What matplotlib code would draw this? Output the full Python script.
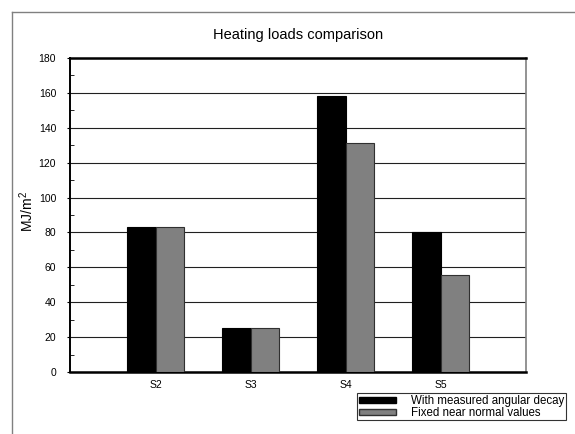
import matplotlib
matplotlib.use("Agg")
import matplotlib.pyplot as plt
from matplotlib.lines import Line2D
from matplotlib.patches import Patch
from matplotlib.ticker import MultipleLocator

plt.rcParams['font.family'] = ['Liberation Sans', 'DejaVu Sans']
plt.rcParams['mathtext.default'] = 'regular'

categories = ["S2", "S3", "S4", "S5"]
measured = [83, 25.5, 158.5, 80]
fixed = [83, 25.5, 131, 55.5]
series_names = ["With measured angular decay", "Fixed near normal values"]
yticks = [0, 20, 40, 60, 80, 100, 120, 140, 160, 180]

W, H = 575, 434
fig = plt.figure(figsize=(W / 100, H / 100), dpi=100)
ax = fig.add_axes([70 / W, 1 - 372 / H, (526 - 70) / W, (372 - 58) / H])

x = list(range(len(categories)))
bw = 0.3
ax.bar([i - bw / 2 for i in x], measured, width=bw, color="black",
       edgecolor="black", linewidth=0.8, zorder=3, label=series_names[0])
ax.bar([i + bw / 2 for i in x], fixed, width=bw, color="#808080",
       edgecolor="#303030", linewidth=0.8, zorder=3, label=series_names[1])

ax.set_xlim(-0.9, 3.9)
ax.set_ylim(0, 180)
ax.set_xticks(x)
ax.set_xticklabels(categories, fontsize=7.5)
ax.set_yticks(yticks)
ax.set_yticklabels([str(v) for v in yticks], fontsize=7.5)
ax.yaxis.set_minor_locator(MultipleLocator(10))
ax.tick_params(axis='x', length=0, pad=6)
ax.tick_params(axis='y', which='major', direction='out', length=2, pad=8)
ax.tick_params(axis='y', which='minor', direction='in', length=3)
ax.yaxis.grid(True, color="#202020", linewidth=0.8, zorder=1)
ax.set_axisbelow(True)

for side in ("top", "left", "bottom"):
    ax.spines[side].set_color("black")
    ax.spines[side].set_linewidth(1.8)
ax.spines["left"].set_linewidth(1.4)
ax.spines["right"].set_color("#808080")
ax.spines["right"].set_linewidth(1.2)

fig.text(298 / W, 1 - 39 / H, "Heating loads comparison", ha="center",
         va="baseline", fontsize=10.5)
fig.text(27 / W, 1 - 212 / H, "MJ/m$^{2}$", rotation=90, ha="center",
         va="center", fontsize=10)

# outer frame (cut off at right and bottom)
fig.add_artist(Line2D([12 / W, 1.0], [1 - 12 / H, 1 - 12 / H],
                      transform=fig.transFigure, color="#808080", linewidth=1))
fig.add_artist(Line2D([12 / W, 12 / W], [0, 1 - 12 / H],
                      transform=fig.transFigure, color="#808080", linewidth=1))

handles = [Patch(facecolor="black", edgecolor="black"),
           Patch(facecolor="#808080", edgecolor="#303030")]
leg = fig.legend(handles, series_names, loc="upper left",
                 bbox_to_anchor=(357 / W, 1 - 393 / H), fontsize=8.3,
                 frameon=True, fancybox=False, edgecolor="black",
                 handlelength=3.2, handleheight=0.45, handletextpad=1.3,
                 borderpad=0.15, labelspacing=0.0, borderaxespad=0)
leg.get_frame().set_linewidth(0.8)

fig.savefig("out.png", dpi=100)
